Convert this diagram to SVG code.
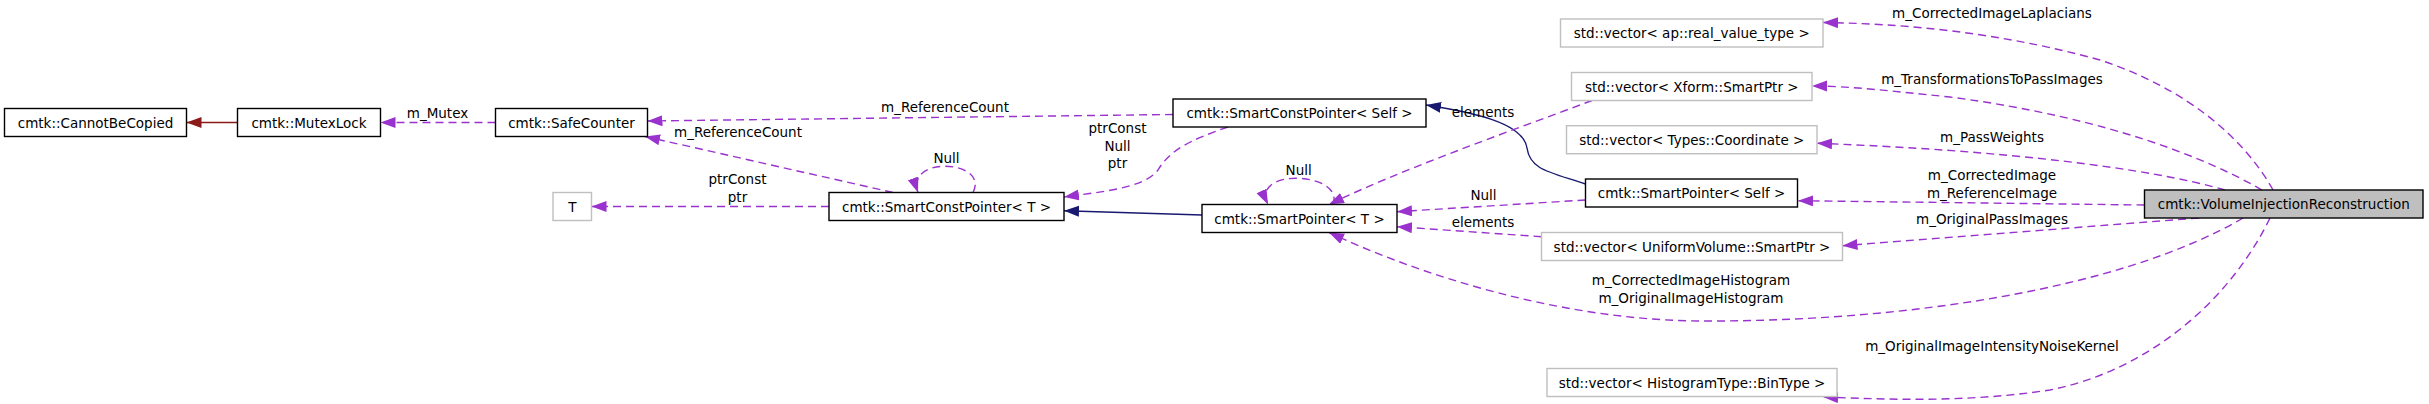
<svg xmlns="http://www.w3.org/2000/svg" width="2429" height="404" viewBox="0 0 2429 404">
<style>
text{font-family:"DejaVu Sans","Liberation Sans",sans-serif;font-size:13.5px;fill:#000;text-anchor:middle}
.n rect{fill:#fff;stroke:#000;stroke-width:1.4}
.g rect{fill:#fff;stroke:#bfbfbf;stroke-width:1.4}
.m rect{fill:#bfbfbf;stroke:#000;stroke-width:1.4}
.e{fill:none;stroke-width:1.4}
.d{stroke:#9a32cd;stroke-dasharray:8,5;marker-end:url(#ap)}
.r{stroke:#8b1a1a;marker-end:url(#ar)}
.b{stroke:#191970;marker-end:url(#ab)}
</style>
<defs>
<marker id="ap" markerUnits="userSpaceOnUse" markerWidth="16" markerHeight="12" refX="15" refY="5.5" orient="auto"><path d="M0,0 L15,5.5 L0,11 z" fill="#9a32cd" stroke="none"/></marker>
<marker id="ar" markerUnits="userSpaceOnUse" markerWidth="16" markerHeight="12" refX="15" refY="5.5" orient="auto"><path d="M0,0 L15,5.5 L0,11 z" fill="#8b1a1a" stroke="none"/></marker>
<marker id="ab" markerUnits="userSpaceOnUse" markerWidth="16" markerHeight="12" refX="15" refY="5.5" orient="auto"><path d="M0,0 L15,5.5 L0,11 z" fill="#191970" stroke="none"/></marker>
</defs>
<g id="edges">
<path class="e r" d="M237.5,122.5 L186.5,122.5"/>
<path class="e d" d="M495.5,122.5 L380.5,122.5"/>
<path class="e d" d="M1173,114.5 L647.5,121"/>
<path class="e d" d="M893,192.5 L645,136.5"/>
<path class="e d" d="M829,206.5 L591.5,206.5"/>
<path class="e d" d="M973,192.5 C990,160 905,155 918,192.5"/>
<path class="e b" d="M1202,215 L1064,210.7"/>
<path class="e d" d="M1228,127 C1190,140 1170,150 1158,170 C1145,188 1100,192 1064,197"/>
<path class="e b" d="M1585.5,184 C1550,172 1530,170 1527,148 C1523,122 1470,112 1426,105"/>
<path class="e d" d="M1592,100.5 C1500,135 1400,170 1329,204.5"/>
<path class="e d" d="M1585.5,200 L1397,211.7"/>
<path class="e d" d="M1541.5,236.7 L1397,226.7"/>
<path class="e d" d="M1333,204.5 C1345,172 1250,167 1268,204.5"/>
<path class="e d" d="M2243,218 C2120,290 1900,322 1700,321 C1560,320 1420,275 1329,232.5"/>
<path class="e d" d="M2273,190 C2245,140 2190,90 2100,60 C2020,38 1930,24 1823,22.5"/>
<path class="e d" d="M2262,190 C2210,160 2110,118 1950,97 C1890,91 1850,86 1812,86"/>
<path class="e d" d="M2225,190 C2150,168 2000,150 1817,143.3"/>
<path class="e d" d="M2144.5,205 L1798,200.7"/>
<path class="e d" d="M2199,218 L1842.5,245.7"/>
<path class="e d" d="M2270,218 C2230,300 2150,370 2050,390 C1970,402 1900,400 1823,397"/>
<text x="437.5" y="117.5">m_Mutex</text>
<text x="945" y="111.5">m_ReferenceCount</text>
<text x="738" y="137">m_ReferenceCount</text>
<text x="737.5" y="184">ptrConst</text>
<text x="737.5" y="201.5">ptr</text>
<text x="946.5" y="163">Null</text>
<text x="1117.5" y="133">ptrConst</text>
<text x="1117.5" y="151">Null</text>
<text x="1117.5" y="168">ptr</text>
<text x="1483" y="116.5">elements</text>
<text x="1298.7" y="175">Null</text>
<text x="1483.5" y="200">Null</text>
<text x="1483" y="226.5">elements</text>
<text x="1691" y="285">m_CorrectedImageHistogram</text>
<text x="1691" y="303">m_OriginalImageHistogram</text>
<text x="1992" y="17.5">m_CorrectedImageLaplacians</text>
<text x="1992" y="84">m_TransformationsToPassImages</text>
<text x="1992" y="141.5">m_PassWeights</text>
<text x="1992" y="180">m_CorrectedImage</text>
<text x="1992" y="197.5">m_ReferenceImage</text>
<text x="1992" y="224">m_OriginalPassImages</text>
<text x="1992" y="350.5">m_OriginalImageIntensityNoiseKernel</text>
</g>
<g id="n_cannotbecopied" class="n"><rect x="4.5" y="108.5" width="182" height="28"/><text x="95.5" y="127.5">cmtk::CannotBeCopied</text></g>
<g id="n_mutexlock" class="n"><rect x="237.5" y="108.5" width="143" height="28"/><text x="309" y="127.5">cmtk::MutexLock</text></g>
<g id="n_safecounter" class="n"><rect x="495.5" y="108.5" width="152" height="28"/><text x="571.5" y="127.5">cmtk::SafeCounter</text></g>
<g id="n_t" class="g"><rect x="553" y="192.5" width="38.5" height="28"/><text x="572.25" y="211.5">T</text></g>
<g id="n_scp_t" class="n"><rect x="829" y="192.5" width="235" height="28"/><text x="946.5" y="211.5">cmtk::SmartConstPointer&lt; T &gt;</text></g>
<g id="n_scp_self" class="n"><rect x="1173" y="99" width="253" height="28"/><text x="1299.5" y="118">cmtk::SmartConstPointer&lt; Self &gt;</text></g>
<g id="n_sp_t" class="n"><rect x="1202" y="204.5" width="195" height="28"/><text x="1299.5" y="223.5">cmtk::SmartPointer&lt; T &gt;</text></g>
<g id="n_vec_ap" class="g"><rect x="1560.5" y="19" width="262.5" height="28"/><text x="1691.75" y="38">std::vector&lt; ap::real_value_type &gt;</text></g>
<g id="n_vec_xform" class="g"><rect x="1571.5" y="72.5" width="240.5" height="28"/><text x="1691.75" y="91.5">std::vector&lt; Xform::SmartPtr &gt;</text></g>
<g id="n_vec_coord" class="g"><rect x="1566.5" y="125.7" width="250.5" height="28"/><text x="1691.75" y="144.7">std::vector&lt; Types::Coordinate &gt;</text></g>
<g id="n_sp_self" class="n"><rect x="1585.5" y="179" width="212" height="28"/><text x="1691.5" y="198">cmtk::SmartPointer&lt; Self &gt;</text></g>
<g id="n_vec_uv" class="g"><rect x="1541.5" y="232.5" width="301" height="28"/><text x="1692" y="251.5">std::vector&lt; UniformVolume::SmartPtr &gt;</text></g>
<g id="n_vec_bin" class="g"><rect x="1547" y="368.5" width="290" height="28"/><text x="1692" y="387.5">std::vector&lt; HistogramType::BinType &gt;</text></g>
<g id="n_vir" class="m"><rect x="2144.5" y="190" width="278.5" height="28"/><text x="2283.75" y="209">cmtk::VolumeInjectionReconstruction</text></g>
</svg>
